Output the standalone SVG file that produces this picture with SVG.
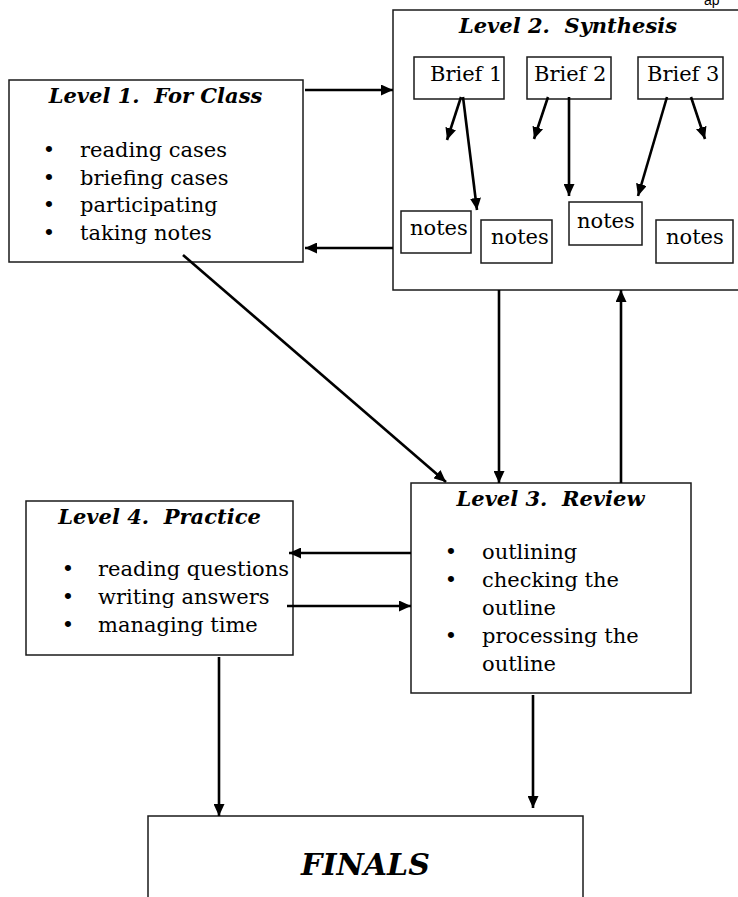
<svg xmlns="http://www.w3.org/2000/svg" width="738" height="897" viewBox="0 0 738 897">
<defs>
<marker id="ah" markerUnits="userSpaceOnUse" markerWidth="13" markerHeight="11" refX="12" refY="5.5" orient="auto">
<path d="M0,0 L12,5.5 L0,11 Z" fill="#000"/>
</marker>
<style>
.box{fill:#fff;stroke:#1a1a1a;stroke-width:1.5}
.ttl{font-family:"DejaVu Serif","Liberation Serif",serif;font-weight:bold;font-style:italic;font-size:21px;fill:#000;text-anchor:middle}
.txt{font-family:"DejaVu Serif","Liberation Serif",serif;font-size:21px;fill:#000}
.bul{font-family:"DejaVu Serif","Liberation Serif",serif;font-size:21px;fill:#000;text-anchor:middle}
.con{stroke:#000;stroke-width:2.6;fill:none;marker-end:url(#ah)}
.ap{font-family:"Liberation Sans",Arial,sans-serif;font-size:14px;fill:#000}
</style>
</defs>
<rect width="738" height="897" fill="#fff"/>
<text class="ap" x="704" y="5">ap</text>

<g id="level1">
<rect class="box" x="9" y="80" width="294" height="182"/>
<text class="ttl" x="155.5" y="103">Level 1. &#160;For Class</text>
<text class="bul" x="49" y="157">•</text><text class="txt" x="80" y="157">reading cases</text>
<text class="bul" x="49" y="184.5">•</text><text class="txt" x="80" y="184.5">briefing cases</text>
<text class="bul" x="49" y="212">•</text><text class="txt" x="80" y="212">participating</text>
<text class="bul" x="49" y="239.5">•</text><text class="txt" x="80" y="239.5">taking notes</text>
</g>

<g id="level2">
<rect class="box" x="393" y="10" width="360" height="280"/>
<text class="ttl" x="568" y="33">Level 2. &#160;Synthesis</text>
</g>
<g id="brief1"><rect class="box" x="414" y="57" width="90" height="42"/><text class="txt" x="430" y="81">Brief 1</text></g>
<g id="brief2"><rect class="box" x="527" y="57" width="84" height="42"/><text class="txt" x="534" y="81">Brief 2</text></g>
<g id="brief3"><rect class="box" x="638" y="57" width="85" height="42"/><text class="txt" x="647" y="81">Brief 3</text></g>
<g id="notes1"><rect class="box" x="401" y="211" width="70" height="42"/><text class="txt" x="410" y="235">notes</text></g>
<g id="notes2"><rect class="box" x="481" y="220" width="71" height="43"/><text class="txt" x="491" y="244">notes</text></g>
<g id="notes3"><rect class="box" x="569" y="202" width="73" height="43"/><text class="txt" x="577" y="228">notes</text></g>
<g id="notes4"><rect class="box" x="656" y="220" width="77" height="43"/><text class="txt" x="666" y="244">notes</text></g>

<g id="level3">
<rect class="box" x="411" y="483" width="280" height="210"/>
<text class="ttl" x="550.5" y="506">Level 3. &#160;Review</text>
<text class="bul" x="451" y="559">•</text><text class="txt" x="482" y="559">outlining</text>
<text class="bul" x="451" y="587">•</text><text class="txt" x="482" y="587">checking the</text>
<text class="txt" x="482" y="615">outline</text>
<text class="bul" x="451" y="643">•</text><text class="txt" x="482" y="643">processing the</text>
<text class="txt" x="482" y="671">outline</text>
</g>

<g id="level4">
<rect class="box" x="26" y="501" width="267" height="154"/>
<text class="ttl" x="159.5" y="524">Level 4. &#160;Practice</text>
<text class="bul" x="68" y="576">•</text><text class="txt" x="98" y="576">reading questions</text>
<text class="bul" x="68" y="604">•</text><text class="txt" x="98" y="604">writing answers</text>
<text class="bul" x="68" y="632">•</text><text class="txt" x="98" y="632">managing time</text>
</g>

<g id="finals">
<rect class="box" x="148" y="816" width="435" height="100"/>
<text class="ttl" x="365.5" y="875" style="font-size:30px">FINALS</text>
</g>

<g id="connectors">
<line class="con" x1="305" y1="90" x2="393" y2="90"/>
<line class="con" x1="393" y1="248" x2="305" y2="248"/>
<line class="con" x1="183" y1="255" x2="446" y2="482"/>
<line class="con" x1="499" y1="290" x2="499" y2="483"/>
<line class="con" x1="621" y1="483" x2="621" y2="290"/>
<line class="con" x1="411" y1="553" x2="289" y2="553"/>
<line class="con" x1="287" y1="606" x2="411" y2="606"/>
<line class="con" x1="219" y1="657" x2="219" y2="816"/>
<line class="con" x1="533" y1="695" x2="533" y2="808"/>
<line class="con" x1="461" y1="97" x2="447" y2="140"/>
<line class="con" x1="463" y1="97" x2="477" y2="210"/>
<line class="con" x1="548" y1="97" x2="534" y2="139"/>
<line class="con" x1="569" y1="97" x2="569" y2="196"/>
<line class="con" x1="667" y1="97" x2="638" y2="196"/>
<line class="con" x1="691" y1="97" x2="705" y2="139"/>
</g>
</svg>
